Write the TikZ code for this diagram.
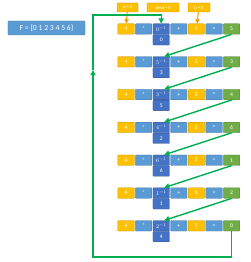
\documentclass[tikz,border=0pt]{standalone}
\usepackage{fontspec}
\setmainfont{Carlito}
\usetikzlibrary{arrows.meta}

\definecolor{cellyellow}{HTML}{FFC000}
\definecolor{cellblue}{HTML}{5B9BD5}
\definecolor{celldark}{HTML}{4472C4}
\definecolor{cellgreen}{HTML}{70AD47}
\definecolor{loopgreen}{HTML}{00B050}
\definecolor{parrow}{HTML}{F0A000}

\tikzset{
  cell/.style={draw=#1!75!black, fill=#1, rounded corners=1pt, line width=0.4pt,
    minimum width=8.25mm, minimum height=5.25mm, inner sep=0pt, text=white,
    font=\fontsize{8}{9}\selectfont},
  param/.style={cell=cellyellow, minimum height=4.5mm, font=\fontsize{6.5}{7}\selectfont},
  feedback/.style={loopgreen, line width=2pt, -{Triangle[length=2.6mm,width=2.6mm]}},
  parg/.style={parrow, line width=1.5pt, -{Triangle[length=2.2mm,width=2.2mm]}},
}

\begin{document}
\begin{tikzpicture}[x=0.5mm,y=-0.5mm]
  \useasboundingbox (0,0) rectangle (250,262);

  % the field
  \node[cell=cellblue, minimum width=38.5mm, minimum height=7mm,
        font=\fontsize{11}{12}\selectfont] (field) at (46.5,28) {F = \{0 1 2 3 4 5 6\}};

  % parameters
  \node[param, minimum width=10.5mm] (pa) at (127.5,7.5) {a = 4};
  \node[param, minimum width=16mm] (pseed) at (163,7.5) {seed = 0};
  \node[param, minimum width=11mm] (pb) at (199,7.5) {b = 5};

  % one row per step: a * x^{-1} + b = result
  \foreach \x/\inv/\r [count=\k] in {0/0/5, 5/3/3, 3/5/4, 4/2/6, 6/6/1, 1/1/2, 2/4/0}{
    \pgfmathsetmacro\yy{29+32.8*(\k-1)}
    \node[cell=cellyellow] (r\k-a) at (126,\yy) {4};
    \node[cell=cellblue] (r\k-mul) at (143.6,\yy) {*};
    \node[cell=celldark] (r\k-x) at (161.2,\yy) {$\x^{-1}$};
    \node[cell=celldark, anchor=north] (r\k-inv) at (r\k-x.south) {\inv};
    \node[cell=cellblue] (r\k-plus) at (178.8,\yy) {+};
    \node[cell=cellyellow] (r\k-b) at (196.4,\yy) {5};
    \node[cell=cellblue] (r\k-eq) at (214,\yy) {=};
    \node[cell=cellgreen] (r\k-res) at (231.6,\yy) {\r};
  }

  % parameter arrows
  \draw[parg] (pa) -- (r1-a);
  \draw[parg] (pb) -- (r1-b);

  % result feeds the next row
  \foreach \k in {1,...,6}{
    \pgfmathtruncatemacro\m{\k+1}
    \draw[feedback] (r\k-res.south) -- ([xshift=1.5mm]r\m-x.north);
  }

  % back to the start
  \coordinate (bl) at (93,257);
  \coordinate (mid) at (93,70);
  \coordinate (tl) at (93,15);
  \draw[feedback] (r7-res.south) |- (bl) -- (mid);
  \draw[feedback] (mid) -- (tl) -| (r1-x.north);

\end{tikzpicture}
\end{document}
